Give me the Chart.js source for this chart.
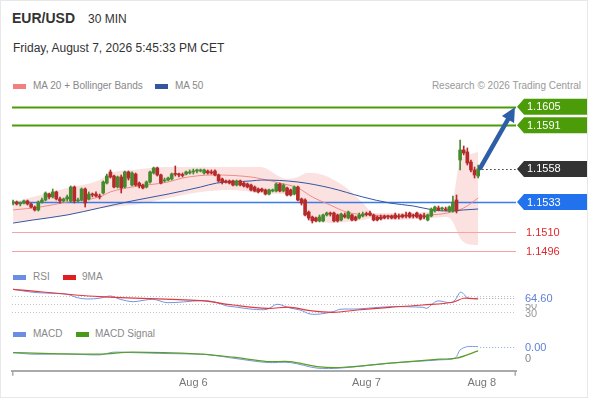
<!DOCTYPE html>
<html><head><meta charset="utf-8">
<script src="https://cdn.jsdelivr.net/npm/chart.js@4.4.1/dist/chart.umd.min.js"></script>
<style>
html,body{margin:0;padding:0;background:#fff;}
body{width:590px;height:400px;position:relative;overflow:hidden;font-family:"Liberation Sans",Arial,sans-serif;}
#frame{position:absolute;left:0;top:0;width:588px;height:398px;border:1px solid #e8e8e8;box-sizing:border-box;}
.t{position:absolute;white-space:nowrap;}
.sw{position:absolute;width:13px;height:5px;}
canvas{position:absolute;left:0;}
</style></head><body>
<div id="frame"></div>
<div class="t" style="left:12px;top:10px;font-size:14px;line-height:17px;font-weight:bold;color:#333">EUR/USD</div>
<div class="t" style="left:88px;top:12px;font-size:12px;line-height:14px;color:#333">30 MIN</div>
<div class="t" style="left:13px;top:41px;font-size:12px;line-height:15px;color:#333">Friday, August 7, 2026 5:45:33 PM CET</div>

<div class="sw" style="left:13px;top:84px;background:#f47f7f"></div>
<div class="t" style="left:33px;top:80px;font-size:10px;line-height:12px;color:#888">MA 20 + Bollinger Bands</div>
<div class="sw" style="left:155px;top:84px;background:#34569e"></div>
<div class="t" style="left:175px;top:80px;font-size:10px;line-height:12px;color:#888">MA 50</div>
<div class="t" style="right:9px;top:80px;font-size:10px;line-height:12px;color:#999">Research © 2026 Trading Central</div>

<div class="sw" style="left:13px;top:275px;background:#6b8de3"></div>
<div class="t" style="left:33px;top:271px;font-size:10px;line-height:12px;color:#888">RSI</div>
<div class="sw" style="left:63px;top:275px;background:#e01e1e"></div>
<div class="t" style="left:82px;top:271px;font-size:10px;line-height:12px;color:#888">9MA</div>

<div class="sw" style="left:13px;top:332px;background:#6b8de3"></div>
<div class="t" style="left:33px;top:328px;font-size:10px;line-height:12px;color:#888">MACD</div>
<div class="sw" style="left:76px;top:332px;background:#4a9a1a"></div>
<div class="t" style="left:95px;top:328px;font-size:10px;line-height:12px;color:#888">MACD Signal</div>

<canvas id="price" width="590" height="165" style="top:95px;width:590px;height:165px"></canvas>
<canvas id="rsi" width="590" height="40" style="top:284px;width:590px;height:40px"></canvas>
<canvas id="macd" width="590" height="58" style="top:338px;width:590px;height:58px"></canvas>

<script>
// ---------- DATA ----------
const opens = [
1.15322,1.15330,1.15315,1.15322,1.15338,1.15315,1.15292,1.15270,1.15330,1.15345,
1.15390,1.15368,1.15406,1.15353,1.15338,1.15353,1.15338,1.15443,1.15338,1.15345,
1.15428,1.15353,1.15390,1.15390,1.15375,1.15398,1.15473,1.15557,1.15526,1.15443,
1.15519,1.15443,1.15557,1.15458,1.15541,1.15473,1.15458,1.15443,1.15481,1.15549,
1.15587,1.15534,1.15489,1.15496,1.15504,1.15541,1.15541,1.15534,1.15541,1.15549,
1.15557,1.15564,1.15564,1.15549,1.15564,1.15557,1.15564,1.15534,1.15504,1.15489,
1.15489,1.15489,1.15458,1.15489,1.15473,1.15466,1.15458,1.15443,1.15428,1.15428,
1.15421,1.15390,1.15413,1.15413,1.15466,1.15413,1.15436,1.15421,1.15390,1.15443,
1.15353,1.15345,1.15254,1.15217,1.15209,1.15187,1.15187,1.15232,1.15242,1.15247,
1.15232,1.15194,1.15232,1.15209,1.15232,1.15217,1.15209,1.15224,1.15239,1.15247,
1.15232,1.15217,1.15217,1.15224,1.15224,1.15224,1.15232,1.15224,1.15232,1.15232,
1.15247,1.15232,1.15247,1.15232,1.15224,1.15194,1.15224,1.15262,1.15285,1.15277,
1.15277,1.15262,1.15262,1.15345,1.15647,1.15723,1.15708,1.15632,1.15572,1.15526];
const highs = [
1.15345,1.15338,1.15330,1.15345,1.15345,1.15322,1.15300,1.15338,1.15360,1.15406,
1.15398,1.15428,1.15413,1.15368,1.15360,1.15383,1.15451,1.15451,1.15360,1.15436,
1.15436,1.15406,1.15398,1.15406,1.15390,1.15489,1.15541,1.15572,1.15534,1.15526,
1.15534,1.15564,1.15564,1.15557,1.15549,1.15481,1.15466,1.15489,1.15564,1.15594,
1.15594,1.15541,1.15511,1.15519,1.15549,1.15602,1.15549,1.15549,1.15564,1.15572,
1.15579,1.15579,1.15579,1.15579,1.15572,1.15572,1.15572,1.15541,1.15511,1.15496,
1.15496,1.15496,1.15496,1.15496,1.15481,1.15473,1.15466,1.15451,1.15436,1.15436,
1.15428,1.15428,1.15428,1.15473,1.15473,1.15466,1.15443,1.15428,1.15451,1.15451,
1.15360,1.15353,1.15262,1.15224,1.15217,1.15232,1.15239,1.15254,1.15254,1.15254,
1.15239,1.15247,1.15247,1.15262,1.15239,1.15224,1.15247,1.15254,1.15254,1.15262,
1.15239,1.15224,1.15232,1.15232,1.15232,1.15232,1.15247,1.15239,1.15239,1.15254,
1.15254,1.15239,1.15254,1.15239,1.15247,1.15239,1.15285,1.15300,1.15300,1.15292,
1.15292,1.15300,1.15375,1.15383,1.15798,1.15753,1.15738,1.15647,1.15594,1.15609];
const lows = [
1.15307,1.15307,1.15300,1.15315,1.15307,1.15285,1.15262,1.15262,1.15322,1.15338,
1.15353,1.15360,1.15345,1.15322,1.15330,1.15338,1.15330,1.15322,1.15330,1.15338,
1.15292,1.15345,1.15368,1.15368,1.15353,1.15390,1.15466,1.15511,1.15436,1.15436,
1.15398,1.15436,1.15496,1.15451,1.15451,1.15436,1.15428,1.15436,1.15473,1.15541,
1.15526,1.15466,1.15481,1.15489,1.15496,1.15526,1.15519,1.15519,1.15534,1.15541,
1.15541,1.15549,1.15557,1.15541,1.15541,1.15541,1.15526,1.15481,1.15466,1.15473,
1.15466,1.15451,1.15451,1.15451,1.15443,1.15436,1.15413,1.15406,1.15398,1.15406,
1.15383,1.15383,1.15406,1.15406,1.15406,1.15406,1.15375,1.15375,1.15383,1.15338,
1.15307,1.15224,1.15194,1.15171,1.15179,1.15179,1.15179,1.15224,1.15224,1.15179,
1.15179,1.15187,1.15209,1.15202,1.15187,1.15187,1.15202,1.15217,1.15224,1.15224,
1.15187,1.15187,1.15194,1.15202,1.15202,1.15202,1.15202,1.15202,1.15209,1.15209,
1.15209,1.15209,1.15209,1.15194,1.15202,1.15187,1.15217,1.15254,1.15262,1.15262,
1.15262,1.15254,1.15254,1.15247,1.15572,1.15685,1.15609,1.15557,1.15511,1.15511];
const closes = [
1.15330,1.15315,1.15322,1.15338,1.15315,1.15292,1.15270,1.15330,1.15345,1.15398,
1.15368,1.15406,1.15353,1.15338,1.15353,1.15368,1.15443,1.15338,1.15345,1.15428,
1.15322,1.15390,1.15383,1.15375,1.15368,1.15481,1.15526,1.15519,1.15443,1.15519,
1.15436,1.15557,1.15511,1.15549,1.15458,1.15451,1.15436,1.15481,1.15557,1.15587,
1.15534,1.15473,1.15496,1.15511,1.15541,1.15539,1.15534,1.15530,1.15557,1.15557,
1.15564,1.15572,1.15572,1.15572,1.15549,1.15549,1.15534,1.15489,1.15481,1.15481,
1.15473,1.15458,1.15489,1.15458,1.15451,1.15443,1.15421,1.15413,1.15406,1.15413,
1.15390,1.15421,1.15421,1.15466,1.15413,1.15458,1.15383,1.15383,1.15443,1.15345,
1.15322,1.15232,1.15209,1.15187,1.15187,1.15217,1.15232,1.15247,1.15239,1.15187,
1.15187,1.15239,1.15217,1.15254,1.15194,1.15194,1.15232,1.15239,1.15236,1.15232,
1.15194,1.15194,1.15202,1.15209,1.15217,1.15209,1.15209,1.15217,1.15217,1.15224,
1.15217,1.15224,1.15217,1.15202,1.15217,1.15232,1.15277,1.15292,1.15270,1.15285,
1.15270,1.15292,1.15330,1.15262,1.15723,1.15700,1.15624,1.15572,1.15534,1.15580];

// Moving averages / Bollinger bands (x = candle index)
const ma20Pts = [[0,1.15270],[7.5,1.15292],[15,1.15330],[24,1.15368],[27,1.15406],[33,1.15443],[43,1.15481],[47,1.15511],[55.5,1.15534],[66,1.15519],[69,1.15504],[74,1.15473],[79,1.15436],[83,1.15368],[88,1.15307],[92.5,1.15254],[99,1.15232],[106.5,1.15224],[115.5,1.15232],[120.5,1.15247],[125,1.15285],[129,1.15360]];
const ma50Pts = [[0,1.15171],[5.5,1.15194],[15,1.15232],[24,1.15285],[33,1.15338],[43,1.15390],[52,1.15443],[56.5,1.15473],[66,1.15489],[69,1.15496],[79,1.15481],[88,1.15436],[97,1.15368],[104.5,1.15322],[111,1.15300],[116.5,1.15270],[121,1.15262],[125,1.15270],[129,1.15277]];
const bandX     = [0,5.5,15,24,27,33,38,43,52,61,68.5,76,79,81.5,83,86,88,92.5,97,100,106.5,115.5,120.5,122,124,126,129];
const bandUpper = [1.15330,1.15368,1.15436,1.15496,1.15549,1.15572,1.15587,1.15594,1.15594,1.15594,1.15594,1.15504,1.15519,1.15549,1.15549,1.15534,1.15511,1.15436,1.15322,1.15247,1.15247,1.15254,1.15285,1.15345,1.15647,1.15685,1.15708];
const bandLower = [1.15179,1.15194,1.15232,1.15285,1.15292,1.15307,1.15330,1.15360,1.15406,1.15421,1.15398,1.15390,1.15383,1.15270,1.15194,1.15179,1.15171,1.15179,1.15194,1.15209,1.15194,1.15209,1.15217,1.15179,1.15058,1.15013,1.15005];

// Key levels
const resistanceLevels = [1.1605, 1.1591];
const pivotLevel = 1.1533;
const supportLevels = [1.1510, 1.1496];
const lastPrice = 1.1558;
const arrowFrom = [129.6, 1.15587];
const arrowTo = [139.2, 1.16045];

// RSI panel
const rsiPts = [[0,86.8],[5.5,79.3],[10.3,76.8],[15,74.3],[17.8,65.8],[20.5,62.5],[24,64.3],[27,70],[29.7,61.8],[33.3,55.8],[38.8,61.8],[42.7,53.3],[52,58.3],[55.5,55.8],[59.4,45],[61,43.3],[66.6,36.8],[70.5,36.8],[73.2,49.3],[76.8,40],[79.6,35],[82.4,25],[85.2,25],[88.8,30.8],[90.7,36.8],[95.4,37.5],[104.6,43.3],[113.7,41.8],[114.8,39.3],[117.6,57.5],[121.2,53.3],[122.6,60],[124,79.3],[124.8,76.8],[126.2,64.3],[129,64.6]];
const rsiMaPts = [[0,86.8],[24,68.3],[52,58.3],[61,47.5],[70.5,39.3],[77,41.8],[82.4,33.3],[88.8,29.3],[95.4,35],[104.6,41.8],[113.7,47.5],[122,54.3],[125,64.3],[129,62.5]];
const rsiLevels = [70, 50, 30];
const rsiLabels = ['', '50', '30'];
const rsiLast = 64.60;

// MACD panel
const macdPts = [[0,0.00021],[5.5,0.000157],[15,0.000167],[24,0.000133],[27.7,0.000223],[33,0.00021],[43,0.000177],[52,0.000157],[55.5,0.000123],[61,0.000023],[70.5,-0.000123],[76.8,-0.000123],[84.3,-0.00031],[90.7,-0.00031],[104.6,-0.000143],[118.4,-0.000033],[122.6,0.000023],[124,0.0003],[126,0.00041],[129,0.00041]];
const signalPts = [[0,0.00021],[24,0.000157],[33,0.000223],[52,0.000157],[61,0.000057],[70.5,-0.00009],[76.8,-0.00009],[84.3,-0.000257],[90.7,-0.00029],[104.6,-0.000143],[118.4,-0.00001],[123,0.000023],[129,0.000267]];
const macdLast = 0.00041;

// X-axis ticks
const tickPos = [50, 98, 130];
const tickLabels = ['Aug 6', 'Aug 7', 'Aug 8'];

// ---------- CHARTS ----------
Chart.defaults.font.family = '"Liberation Sans", Arial, sans-serif';
const X_MIN = -0.3, X_MAX = 139.5;
const GREEN = '#4c9c0a', BLUE = '#2272ee', RED = '#e0282e';
const UP = '#468a2e', DOWN = '#b52a2a';
const pts = a => a.map(p => ({x: p[0], y: p[1]}));
const baseOpts = (yMin, yMax) => ({
  responsive: false, animation: false, events: [],
  layout: {padding: {left: 12, right: 74, top: 0, bottom: 0}},
  scales: {
    x: {type: 'linear', min: X_MIN, max: X_MAX, display: false, offset: false},
    y: {display: false, min: yMin, max: yMax}
  },
  plugins: {legend: {display: false}, tooltip: {enabled: false}}
});

function tag(ctx, x0, x1, y, color, text) {
  ctx.fillStyle = color;
  ctx.beginPath();
  ctx.moveTo(x0, y); ctx.lineTo(x0 + 7, y - 8); ctx.lineTo(x1, y - 8);
  ctx.lineTo(x1, y + 8); ctx.lineTo(x0 + 7, y + 8); ctx.closePath(); ctx.fill();
  ctx.fillStyle = '#fff';
  ctx.font = '11px "Liberation Sans", Arial, sans-serif';
  ctx.textBaseline = 'middle'; ctx.textAlign = 'left';
  ctx.fillText(text, x0 + 10, y + 0.5);
}

const pricePlugin = {
  id: 'priceDeco',
  afterDatasetDraw(chart, args) {
    if (args.index !== 0) return;
    const {ctx, chartArea: a, scales: {y}} = chart;
    ctx.save();
    const line = (p, c, w) => { const py = Math.round(y.getPixelForValue(p)) + 0.5; ctx.strokeStyle = c; ctx.lineWidth = w; ctx.beginPath(); ctx.moveTo(a.left, py); ctx.lineTo(a.right, py); ctx.stroke(); };
    resistanceLevels.forEach(p => line(p, GREEN, 2));
    line(pivotLevel, '#3b7be8', 1.5);
    supportLevels.forEach(p => line(p, '#f5a5a5', 1));
    ctx.restore();
  },
  afterDatasetsDraw(chart) {
    const {ctx, chartArea: a, scales: {x, y}} = chart;
    ctx.save();
    const ly = Math.round(y.getPixelForValue(lastPrice)) + 0.5;
    ctx.strokeStyle = '#333'; ctx.lineWidth = 1; ctx.setLineDash([1.5, 2.5]);
    ctx.beginPath(); ctx.moveTo(x.getPixelForValue(closes.length - 1) + 4, ly); ctx.lineTo(a.right + 1, ly); ctx.stroke();
    ctx.setLineDash([]);
    const x0 = x.getPixelForValue(arrowFrom[0]), y0 = y.getPixelForValue(arrowFrom[1]);
    const x1 = x.getPixelForValue(arrowTo[0]), y1 = y.getPixelForValue(arrowTo[1]);
    const ang = Math.atan2(y1 - y0, x1 - x0), hl = 14, hw = 7;
    const bx = x1 - hl * Math.cos(ang), by = y1 - hl * Math.sin(ang);
    ctx.strokeStyle = '#2d5ea6'; ctx.fillStyle = '#2d5ea6'; ctx.lineWidth = 4.5; ctx.lineCap = 'round';
    ctx.beginPath(); ctx.moveTo(x0, y0); ctx.lineTo(bx, by); ctx.stroke();
    ctx.beginPath(); ctx.moveTo(x1, y1);
    ctx.lineTo(bx + hw * Math.sin(ang), by - hw * Math.cos(ang));
    ctx.lineTo(bx - hw * Math.sin(ang), by + hw * Math.cos(ang));
    ctx.closePath(); ctx.fill();
    const tx0 = a.right + 1, tx1 = 587;
    resistanceLevels.forEach(p => tag(ctx, tx0, tx1, y.getPixelForValue(p), GREEN, p.toFixed(4)));
    tag(ctx, tx0, tx1, y.getPixelForValue(lastPrice), '#333333', lastPrice.toFixed(4));
    tag(ctx, tx0, tx1, y.getPixelForValue(pivotLevel), BLUE, pivotLevel.toFixed(4));
    ctx.fillStyle = RED; ctx.font = '11px "Liberation Sans", Arial, sans-serif';
    ctx.textBaseline = 'middle'; ctx.textAlign = 'left';
    supportLevels.forEach(p => ctx.fillText(p.toFixed(4), a.right + 10, y.getPixelForValue(p) + 1));
    ctx.restore();
  }
};

const candleColors = closes.map((c, i) => c >= opens[i] ? UP : DOWN);
new Chart(document.getElementById('price'), {
  type: 'bar',
  data: {datasets: [
    {type: 'line', data: bandX.map((v, i) => ({x: v, y: bandUpper[i]})), borderWidth: 0, pointRadius: 0, fill: '+1', backgroundColor: 'rgba(250,196,196,0.5)', cubicInterpolationMode: 'monotone', order: 10},
    {type: 'line', data: bandX.map((v, i) => ({x: v, y: bandLower[i]})), borderWidth: 0, pointRadius: 0, fill: false, cubicInterpolationMode: 'monotone', order: 11},
    {type: 'line', data: pts(ma20Pts), borderColor: '#f08a8a', borderWidth: 1, pointRadius: 0, cubicInterpolationMode: 'monotone', order: 5},
    {type: 'line', data: pts(ma50Pts), borderColor: '#34569e', borderWidth: 1, pointRadius: 0, cubicInterpolationMode: 'monotone', order: 4},
    {type: 'bar', data: lows.map((l, i) => ({x: i, y: [l, highs[i]]})), backgroundColor: candleColors, barThickness: 1, grouped: false, order: 2},
    {type: 'bar', data: opens.map((o, i) => ({x: i, y: [o, closes[i]]})), backgroundColor: candleColors, barThickness: 3, grouped: false, minBarLength: 1, order: 1}
  ]},
  options: baseOpts(1.14892, 1.16138),
  plugins: [pricePlugin]
});

const rsiPlugin = {
  id: 'rsiDeco',
  beforeDatasetsDraw(chart) {
    const {ctx, chartArea: a, scales: {y}} = chart;
    ctx.save(); ctx.strokeStyle = '#c4c4c4'; ctx.lineWidth = 1; ctx.setLineDash([1, 2]);
    rsiLevels.forEach(v => { const py = Math.round(y.getPixelForValue(v)) + 0.5; ctx.beginPath(); ctx.moveTo(a.left, py); ctx.lineTo(a.right, py); ctx.stroke(); });
    ctx.restore();
  },
  afterDatasetsDraw(chart) {
    const {ctx, chartArea: a, scales: {x, y}} = chart;
    ctx.save();
    const ly = Math.round(y.getPixelForValue(rsiLast)) + 0.5;
    ctx.strokeStyle = '#aaa'; ctx.setLineDash([1, 2]); ctx.lineWidth = 1;
    ctx.beginPath(); ctx.moveTo(x.getPixelForValue(129) + 2, ly); ctx.lineTo(a.right, ly); ctx.stroke();
    ctx.setLineDash([]);
    ctx.font = '11px "Liberation Sans", Arial, sans-serif'; ctx.textBaseline = 'middle'; ctx.textAlign = 'left';
    ctx.fillStyle = '#999';
    rsiLevels.forEach((v, i) => { if (rsiLabels[i]) ctx.fillText(rsiLabels[i], a.right + 9, y.getPixelForValue(v) + 2); });
    const t = rsiLast.toFixed(2);
    ctx.fillStyle = '#fff'; ctx.fillRect(a.right + 7, ly - 6.5, ctx.measureText(t).width + 4, 12);
    ctx.fillStyle = '#5f80d6'; ctx.fillText(t, a.right + 9, ly + 0.5);
    ctx.restore();
  }
};
new Chart(document.getElementById('rsi'), {
  type: 'line',
  data: {datasets: [
    {data: pts(rsiMaPts), borderColor: '#e0393e', borderWidth: 1.2, pointRadius: 0, tension: 0.35},
    {data: pts(rsiPts), borderColor: '#7393e2', borderWidth: 1, pointRadius: 0, tension: 0.3}
  ]},
  options: Object.assign(baseOpts(0, 100), {clip: false}),
  plugins: [rsiPlugin]
});

const macdPlugin = {
  id: 'macdDeco',
  afterDatasetsDraw(chart) {
    const {ctx, chartArea: a, scales: {x, y}} = chart;
    ctx.save();
    const ly = Math.round(y.getPixelForValue(macdLast)) + 0.5;
    ctx.strokeStyle = '#8fa6e4'; ctx.setLineDash([1, 2]); ctx.lineWidth = 1;
    ctx.beginPath(); ctx.moveTo(x.getPixelForValue(129) + 2, ly); ctx.lineTo(a.right, ly); ctx.stroke();
    ctx.setLineDash([]);
    ctx.font = '11px "Liberation Sans", Arial, sans-serif'; ctx.textBaseline = 'middle'; ctx.textAlign = 'left';
    ctx.fillStyle = '#5f80d6'; ctx.fillText(macdLast.toFixed(2), a.right + 9, ly + 0.5);
    ctx.fillStyle = '#888'; ctx.fillText('0', a.right + 9, y.getPixelForValue(0));
    ctx.strokeStyle = '#aaa'; ctx.lineWidth = 1.5;
    [a.left + 0.75, a.right - 0.75].forEach(px => { ctx.beginPath(); ctx.moveTo(px, a.bottom); ctx.lineTo(px, a.bottom + 5); ctx.stroke(); });
    ctx.restore();
  }
};
const macdOpts = baseOpts(-0.0004, 0.0007);
macdOpts.scales.x = {
  type: 'linear', min: X_MIN, max: X_MAX, display: true, offset: false,
  grid: {display: false, drawTicks: false},
  border: {display: true, color: '#aaa', width: 2},
  afterBuildTicks: s => { s.ticks = tickPos.map(v => ({value: v})); },
  ticks: {autoSkip: false, maxRotation: 0, padding: 6, color: '#777', font: {size: 11},
    callback: v => { const k = tickPos.indexOf(v); return k >= 0 ? tickLabels[k] : ''; }}
};
new Chart(document.getElementById('macd'), {
  type: 'line',
  data: {datasets: [
    {data: pts(signalPts), borderColor: '#5a9e2a', borderWidth: 1.2, pointRadius: 0, tension: 0.35},
    {data: pts(macdPts), borderColor: '#7b98e0', borderWidth: 1, pointRadius: 0, tension: 0.3}
  ]},
  options: macdOpts,
  plugins: [macdPlugin]
});
</script>
</body></html>
